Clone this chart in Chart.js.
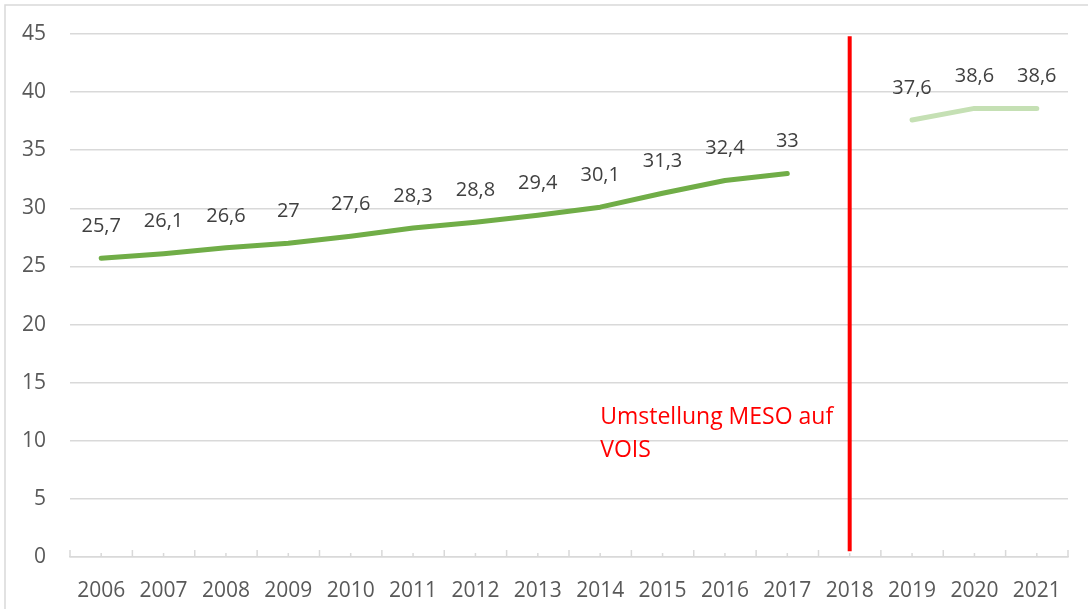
<!DOCTYPE html>
<html>
<head>
<meta charset="utf-8">
<script src="https://cdn.jsdelivr.net/npm/chart.js@4/dist/chart.umd.min.js"></script>
<style>
  html, body { margin: 0; padding: 0; background: #fff; }
  #wrap { width: 1088px; height: 613px; }
</style>
</head>
<body>
<div id="wrap"><canvas id="chart" width="1088" height="613"></canvas></div>
<script>
const years = ["2006","2007","2008","2009","2010","2011","2012","2013","2014","2015","2016","2017","2018","2019","2020","2021"];

// MESO values (up to 2017)
const mesoValues = [25.7, 26.1, 26.6, 27, 27.6, 28.3, 28.8, 29.4, 30.1, 31.3, 32.4, 33, null, null, null, null];

// VOIS values (from 2019)
const voisValues = [null, null, null, null, null, null, null, null, null, null, null, null, null, 37.6, 38.6, 38.6];

// switch marker
const switchYear = "2018";
const switchRange = [0.5, 44.8];
const switchText = ["Umstellung MESO auf", "VOIS"];
const switchTextYear = "2014";
const switchTextValue = 12;

const yTicks = { min: 0, max: 45, step: 5 };

const textFont = "'Open Sans', sans-serif";

const fmt = v => String(v).replace(".", ",");

const valueLabels = {
    id: "valueLabels",
    afterDatasetsDraw(chart) {
        const c = chart.ctx;
        c.save();
        c.font = "20px " + textFont;
        c.fillStyle = "#404040";
        c.textAlign = "center";
        c.textBaseline = "middle";
        chart.data.datasets.forEach((ds, i) => {
            if (!ds.showValues) return;
            const meta = chart.getDatasetMeta(i);
            meta.data.forEach((pt, j) => {
                const v = ds.data[j];
                if (v === null || v === undefined) return;
                c.fillText(fmt(v), pt.x, pt.y - 32);
            });
        });
        // annotation text
        const xs = chart.scales.x, ys = chart.scales.y;
        c.font = "23px " + textFont;
        c.fillStyle = "#ff0000";
        c.textAlign = "left";
        const tx = xs.getPixelForValue(years.indexOf(switchTextYear));
        const ty = ys.getPixelForValue(switchTextValue);
        switchText.forEach((line, k) => c.fillText(line, tx, ty + k * 33));
        c.restore();
    }
};

const frame = {
    id: "frame",
    beforeDraw(chart) {
        const c = chart.ctx;
        c.save();
        c.strokeStyle = "#d9d9d9";
        c.lineWidth = 1.5;
        c.beginPath();
        c.moveTo(5, 609);
        c.lineTo(5, 5);
        c.lineTo(1088, 5);
        c.stroke();
        c.restore();
    },
    afterDraw(chart) {
        // small upward tick marks on the category axis
        const a = chart.chartArea, c = chart.ctx;
        const w = (a.right - a.left) / years.length;
        c.save();
        c.strokeStyle = "#d9d9d9";
        c.lineWidth = 1.5;
        c.beginPath();
        for (let i = 0; i <= years.length; i++) {
            const xb = a.left + i * w;
            c.moveTo(xb, a.bottom);
            c.lineTo(xb, a.bottom - 7);
            if (i < years.length) {
                c.moveTo(xb + w / 2, a.bottom);
                c.lineTo(xb + w / 2, a.bottom - 4);
            }
        }
        c.stroke();
        c.restore();
    }
};

new Chart(document.getElementById("chart"), {
    type: "line",
    data: {
        labels: years,
        datasets: [
            {
                label: "MESO",
                data: mesoValues,
                borderColor: "#70ad47",
                borderWidth: 5,
                borderCapStyle: "round",
                borderJoinStyle: "round",
                pointRadius: 0,
                tension: 0,
                showValues: true
            },
            {
                label: "VOIS",
                data: voisValues,
                borderColor: "#c5e0b4",
                borderWidth: 5,
                borderCapStyle: "round",
                borderJoinStyle: "round",
                pointRadius: 0,
                tension: 0,
                showValues: true
            },
            {
                label: "Umstellung",
                data: switchRange.map(v => ({ x: switchYear, y: v })),
                borderColor: "#ff0000",
                borderWidth: 4,
                pointRadius: 0,
                tension: 0
            }
        ]
    },
    options: {
        responsive: false,
        animation: false,
        events: [],
        layout: { padding: { top: 34, right: 20, bottom: 0, left: 0 } },
        plugins: {
            legend: { display: false },
            tooltip: { enabled: false }
        },
        scales: {
            x: {
                offset: true,
                afterFit(scale) { scale.height = 56; },
                grid: { display: false },
                border: { color: "#d9d9d9", width: 1.5 },
                ticks: { color: "#595959", font: { family: textFont, size: 21 }, padding: 13, maxRotation: 0, autoSkip: false }
            },
            y: {
                min: yTicks.min,
                max: yTicks.max,
                afterFit(scale) {
                    scale.width = 70;
                    scale.paddingTop = 0;
                    scale.paddingBottom = 0;
                },
                grid: { color: "#d9d9d9", lineWidth: 1.5, drawTicks: false },
                border: { display: false },
                ticks: { stepSize: yTicks.step, color: "#595959", font: { family: textFont, size: 21 }, padding: 24 }
            }
        }
    },
    plugins: [frame, valueLabels]
});
</script>
</body>
</html>
